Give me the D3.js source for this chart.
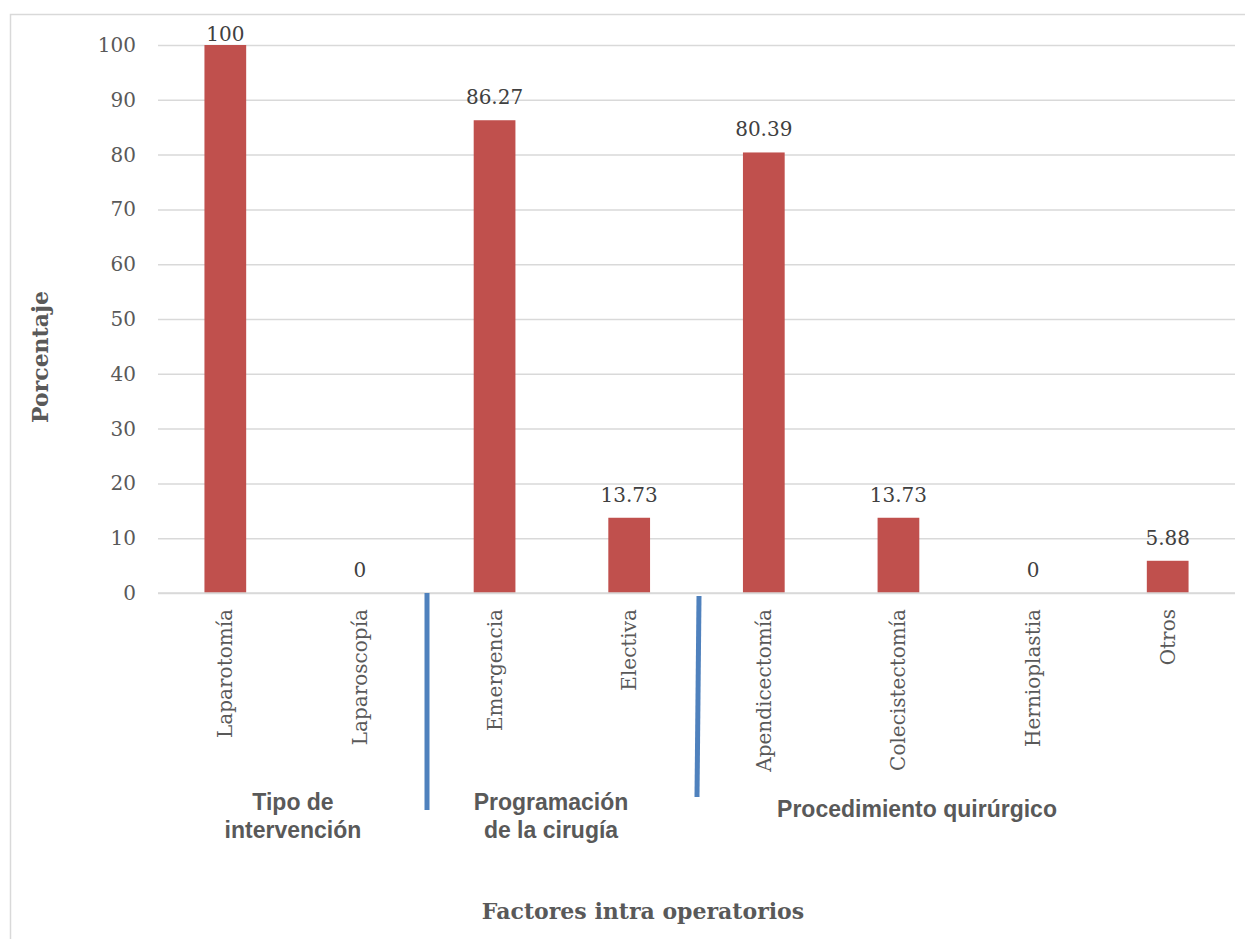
<!DOCTYPE html>
<html><head><meta charset="utf-8">
<script src="https://cdn.jsdelivr.net/npm/d3@7"></script>
<style>body{margin:0;background:#fff}svg{display:block}</style>
</head><body>
<svg id="c" width="1245" height="939"></svg>
<script>
const categories = ["Laparotomía","Laparoscopía","Emergencia","Electiva","Apendicectomía","Colecistectomía","Hernioplastia","Otros"];
const values = [100, 0, 86.27, 13.73, 80.39, 13.73, 0, 5.88];
const valueLabels = ["100","0","86.27","13.73","80.39","13.73","0","5.88"];
const yTicks = [0,10,20,30,40,50,60,70,80,90,100];
const groups = [
  {lines:["Tipo de","intervención"], from:0, to:1},
  {lines:["Programación","de la cirugía"], from:2, to:3},
  {lines:["Procedimiento quirúrgico"], from:4, to:7}
];
const xTitle = "Factores intra operatorios";
const yTitle = "Porcentaje";

const svg = d3.select("#c");
const serif = "'DejaVu Serif', serif";
const txt = "#595959";
const L=158, R=1235, T=45, B=593;

// frame
svg.append("rect").attr("x",10.5).attr("y",14.5).attr("width",1245).attr("height",940)
  .attr("fill","none").attr("stroke","#d9d9d9").attr("stroke-width",1.5);

const x = d3.scaleBand().domain(categories).range([L,R]).paddingInner(0.69).paddingOuter(0.345);
const y = d3.scaleLinear().domain([0,100]).range([B,T]);

// grid
const ya = d3.axisLeft(y).tickValues(yTicks).tickSize(-(R-L)).tickFormat(d3.format("d"));
const gy = svg.append("g").attr("transform",`translate(${L},0)`).call(ya);
gy.select(".domain").remove();
gy.selectAll(".tick line").attr("stroke","#d9d9d9").attr("stroke-width",1.5);
gy.selectAll(".tick text").attr("x",-22).attr("fill",txt).style("font-family",serif).style("font-size","20px");

// bars
svg.append("g").selectAll("rect").data(values).join("rect")
  .attr("x",(d,i)=>x(categories[i])).attr("width",x.bandwidth())
  .attr("y",d=>y(d)).attr("height",d=>B-y(d)).attr("fill","#c0504d");

// value labels
svg.append("g").selectAll("text").data(values).join("text")
  .attr("x",(d,i)=>x(categories[i])+x.bandwidth()/2).attr("y",d=>Math.max(y(d)-16, 41))
  .attr("text-anchor","middle").attr("fill","#404040")
  .style("font-family",serif).style("font-size","20px")
  .text((d,i)=>valueLabels[i]);

// x axis line
svg.append("line").attr("x1",L).attr("x2",R).attr("y1",B).attr("y2",B).attr("stroke","#d9d9d9").attr("stroke-width",1.5);

// category labels
const xa = d3.axisBottom(x).tickSize(0).tickPadding(0);
const gx = svg.append("g").attr("transform",`translate(0,${B})`).call(xa);
gx.select(".domain").remove();
gx.selectAll(".tick text").attr("transform","rotate(-90)").attr("x",-16).attr("y",0).attr("dy","0.35em")
  .attr("text-anchor","end").attr("fill",txt).style("font-family",serif).style("font-size","20px");

// group separators
const sep = [[427,593,427,810],[699,596,697,797]];
svg.append("g").selectAll("line").data(sep).join("line")
  .attr("x1",d=>d[0]).attr("y1",d=>d[1]).attr("x2",d=>d[2]).attr("y2",d=>d[3])
  .attr("stroke","#4f81bd").attr("stroke-width",5);

// group labels
const gl = svg.append("g");
const gcx = [293, 551, 917];
const gty = [[810,838],[810,838],[817]];
groups.forEach((g,i)=>{
  g.lines.forEach((ln,j)=>{
    gl.append("text").attr("x",gcx[i]).attr("y",gty[i][j]).attr("text-anchor","middle")
      .attr("fill",txt).style("font-family","'Liberation Sans', Arial, sans-serif")
      .style("font-weight","bold").style("font-size","23px").text(ln);
  });
});

// axis titles
svg.append("text").attr("x",643).attr("y",919).attr("text-anchor","middle").attr("fill",txt)
  .style("font-family",serif).style("font-weight","bold").style("font-size","22px").text(xTitle);
svg.append("text").attr("transform","translate(48,357) rotate(-90)").attr("text-anchor","middle").attr("fill",txt)
  .style("font-family",serif).style("font-weight","bold").style("font-size","22px").text(yTitle);
</script>
</body></html>
